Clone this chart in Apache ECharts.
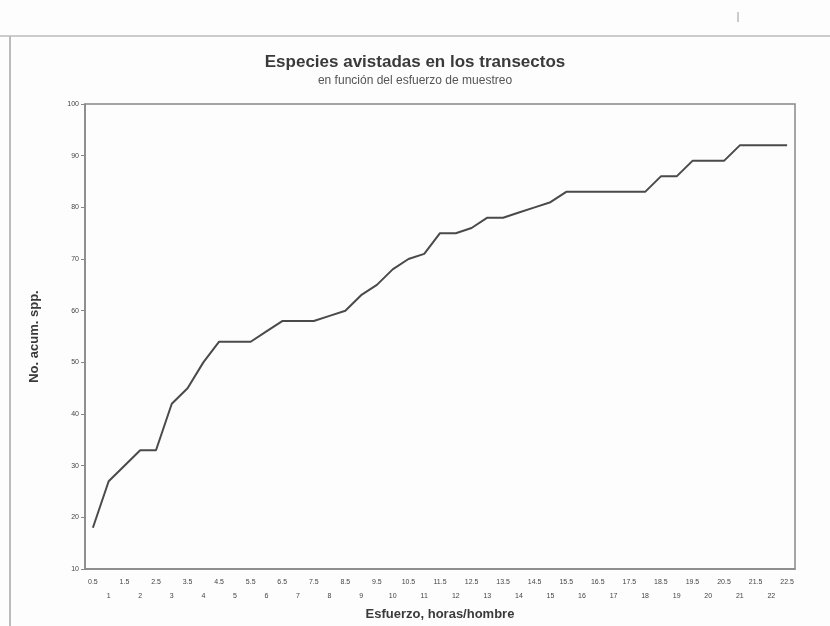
<!DOCTYPE html>
<html>
<head>
<meta charset="utf-8">
<script src="https://cdn.jsdelivr.net/npm/echarts@6/dist/echarts.min.js"></script>
<style>
    html, body { margin: 0; padding: 0; background: #fdfdfd; }
    #chart { width: 830px; height: 626px; }
</style>
</head>
<body>
<div id="chart"></div>
<script>
// esfuerzo (horas/hombre)
var horas = ['0.5', '1', '1.5', '2', '2.5', '3', '3.5', '4', '4.5', '5',
    '5.5', '6', '6.5', '7', '7.5', '8', '8.5', '9', '9.5', '10',
    '10.5', '11', '11.5', '12', '12.5', '13', '13.5', '14', '14.5', '15',
    '15.5', '16', '16.5', '17', '17.5', '18', '18.5', '19', '19.5', '20',
    '20.5', '21', '21.5', '22', '22.5'];
// especies acumuladas
var acumSpp = [18, 27, 30, 33, 33, 42, 45, 50, 54, 54,
    54, 56, 58, 58, 58, 59, 60, 63, 65, 68,
    70, 71, 75, 75, 76, 78, 78, 79, 80, 81,
    83, 83, 83, 83, 83, 83, 86, 86, 89, 89,
    89, 92, 92, 92, 92];
var yTicks = [10, 20, 30, 40, 50, 60, 70, 80, 90, 100];

var myChart = echarts.init(document.getElementById('chart'));
myChart.setOption({
    backgroundColor: '#fdfdfd',
    animation: false,
    title: {
        text: 'Especies avistadas en los transectos',
        subtext: 'en función del esfuerzo de muestreo',
        left: 'center',
        top: 49,
        itemGap: 4,
        textStyle: {
            fontFamily: 'Liberation Sans',
            fontSize: 17,
            fontWeight: 'bold',
            color: '#3a3a3a'
        },
        subtextStyle: {
            fontFamily: 'Liberation Sans',
            fontSize: 12,
            color: '#555'
        }
    },
    graphic: [{
        type: 'line',
        shape: {x1: 0, y1: 36, x2: 830, y2: 36},
        style: {stroke: '#ccc', lineWidth: 2}
    }, {
        type: 'line',
        shape: {x1: 10, y1: 36, x2: 10, y2: 626},
        style: {stroke: '#bbb', lineWidth: 2}
    }, {
        type: 'line',
        shape: {x1: 738, y1: 12, x2: 738, y2: 22},
        style: {stroke: '#999', lineWidth: 1}
    }],
    grid: {
        show: true,
        left: 85,
        right: 35,
        top: 104,
        bottom: 53,
        borderColor: '#888',
        borderWidth: 1.5,
        backgroundColor: 'transparent'
    },
    xAxis: {
        type: 'category',
        data: horas,
        boundaryGap: true,
        name: 'Esfuerzo, horas/hombre',
        nameLocation: 'middle',
        nameGap: 34,
        nameTextStyle: {
            fontFamily: 'Liberation Sans',
            fontSize: 13,
            fontWeight: 'bold',
            color: '#3a3a3a'
        },
        axisLine: {
            lineStyle: {color: '#888', width: 1.5}
        },
        axisTick: {
            alignWithLabel: true,
            length: 4,
            lineStyle: {color: '#888'}
        },
        axisLabel: {
            interval: 0,
            margin: 6,
            fontSize: 7,
            lineHeight: 14,
            color: '#444',
            formatter: function (v, i) {
                return i % 2 === 0 ? v : '\n' + v;
            }
        }
    },
    yAxis: {
        type: 'value',
        min: 10,
        max: 100,
        interval: 10,
        name: 'No. acum. spp.',
        nameLocation: 'middle',
        nameGap: 44,
        nameTextStyle: {
            fontFamily: 'Liberation Sans',
            fontSize: 13,
            fontWeight: 'bold',
            color: '#3a3a3a'
        },
        splitLine: {
            show: false
        },
        axisLine: {
            show: true,
            lineStyle: {color: '#888', width: 1.5}
        },
        axisTick: {
            show: true,
            length: 4,
            lineStyle: {color: '#888'}
        },
        axisLabel: {
            fontSize: 7,
            margin: 6,
            color: '#444',
            formatter: function (v) {
                return yTicks.indexOf(v) >= 0 ? String(v) : '';
            }
        }
    },
    series: [{
        type: 'line',
        data: acumSpp,
        symbol: 'none',
        lineStyle: {
            color: '#4a4a4a',
            width: 2
        }
    }]
});
</script>
</body>
</html>
